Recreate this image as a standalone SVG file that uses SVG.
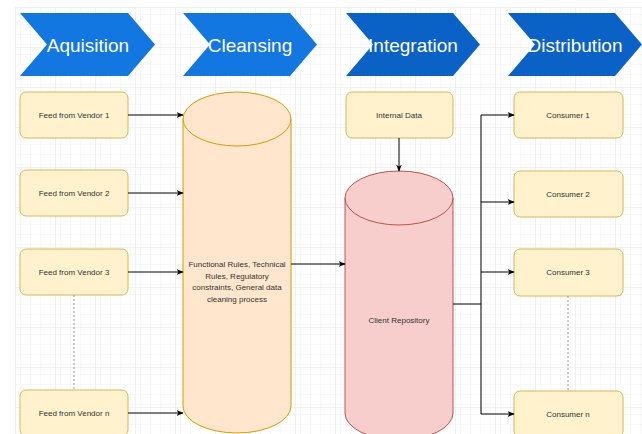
<svg xmlns="http://www.w3.org/2000/svg" width="642" height="434" viewBox="0 0 642 434">
<defs>
<pattern id="gMinor" width="10" height="10" patternUnits="userSpaceOnUse" x="15" y="7">
<path d="M10,0 L0,0 0,10" fill="none" stroke="#f1f1f1" stroke-width="1"/>
</pattern>
<pattern id="gMajor" width="40" height="40" patternUnits="userSpaceOnUse" x="15" y="7">
<rect width="40" height="40" fill="url(#gMinor)"/>
<path d="M40,0 L0,0 0,40" fill="none" stroke="#e4e4e4" stroke-width="1"/>
</pattern>
<marker id="arr" viewBox="0 0 10 10" refX="9" refY="5" markerWidth="7" markerHeight="7" orient="auto" markerUnits="userSpaceOnUse">
<path d="M0,1 L10,5 L0,9 L2.5,5 Z" fill="#000"/>
</marker>
</defs>
<style>
.chev1{fill:#1277e1;}
.chev2{fill:#0b62c6;}
.title{font-family:"Liberation Sans",Arial,sans-serif;font-size:19px;fill:#fff;text-anchor:middle;}
.box{fill:#fff2cc;stroke:#d6b656;stroke-width:1;}
.lbl{font-family:"Liberation Sans",Arial,sans-serif;font-size:8px;fill:#333;text-anchor:middle;}
.conn{fill:none;stroke:#000;stroke-width:1;}
.dot{fill:none;stroke:#999;stroke-width:1;stroke-dasharray:2,2;}
</style>
<rect width="642" height="434" fill="#fff"/>
<rect x="15" y="7" width="627" height="427" fill="url(#gMajor)"/>

<g id="stage-aquisition">
<polygon class="chev1" points="20,13 128,13 155,44.5 128,76 20,76 47,44.5"/>
<text class="title" x="88" y="52">Aquisition</text>
</g>
<g id="stage-cleansing">
<polygon class="chev1" points="183,13 290,13 317,44.5 290,76 183,76 210,44.5"/>
<text class="title" x="250" y="52">Cleansing</text>
</g>
<g id="stage-integration">
<polygon class="chev2" points="346,13 453,13 480,44.5 453,76 346,76 373,44.5"/>
<text class="title" x="413" y="52">Integration</text>
</g>
<g id="stage-distribution">
<polygon class="chev2" points="508,13 615,13 642,44.5 615,76 508,76 535,44.5"/>
<text class="title" x="575" y="52">Distribution</text>
</g>

<g id="vendor1">
<rect class="box" x="20" y="92" width="108" height="46" rx="6"/>
<text class="lbl" x="74" y="118">Feed from Vendor 1</text>
</g>
<g id="vendor2">
<rect class="box" x="20" y="170" width="108" height="46" rx="6"/>
<text class="lbl" x="74" y="196">Feed from Vendor 2</text>
</g>
<g id="vendor3">
<rect class="box" x="20" y="249" width="108" height="46" rx="6"/>
<text class="lbl" x="74" y="275">Feed from Vendor 3</text>
</g>
<g id="vendorn">
<rect class="box" x="20" y="390" width="108" height="46" rx="6"/>
<text class="lbl" x="74" y="416">Feed from Vendor n</text>
</g>

<g id="cleansing-store">
<path d="M183,119 A54,27 0 0,1 291,119 L291,406 A54,27 0 0,1 183,406 Z" fill="#ffe6cc" stroke="#d79b00" stroke-width="1"/>
<path d="M183,119 A54,27 0 0,0 291,119" fill="none" stroke="#d79b00" stroke-width="1"/>
<text class="lbl" x="237" y="267">Functional Rules, Technical</text>
<text class="lbl" x="237" y="278.5">Rules, Regulatory</text>
<text class="lbl" x="237" y="290">constraints, General data</text>
<text class="lbl" x="237" y="301.5">cleaning process</text>
</g>

<g id="internal-data">
<rect class="box" x="346" y="92" width="107" height="46" rx="6"/>
<text class="lbl" x="399" y="118">Internal Data</text>
</g>

<g id="client-repository">
<path d="M345,198 A54,27 0 0,1 453,198 L453,413 A54,27 0 0,1 345,413 Z" fill="#f8cecc" stroke="#b85450" stroke-width="1"/>
<path d="M345,198 A54,27 0 0,0 453,198" fill="none" stroke="#b85450" stroke-width="1"/>
<text class="lbl" x="399" y="323">Client Repository</text>
</g>

<g id="consumer1">
<rect class="box" x="514" y="92" width="109" height="46" rx="6"/>
<text class="lbl" x="568" y="118">Consumer 1</text>
</g>
<g id="consumer2">
<rect class="box" x="514" y="171" width="109" height="46" rx="6"/>
<text class="lbl" x="568" y="197">Consumer 2</text>
</g>
<g id="consumer3">
<rect class="box" x="514" y="249" width="109" height="47" rx="6"/>
<text class="lbl" x="568" y="275">Consumer 3</text>
</g>
<g id="consumern">
<rect class="box" x="514" y="391" width="109" height="46" rx="6"/>
<text class="lbl" x="568" y="417">Consumer n</text>
</g>

<g id="connectors">
<line class="conn" x1="128" y1="115" x2="183" y2="115" marker-end="url(#arr)"/>
<line class="conn" x1="128" y1="193" x2="183" y2="193" marker-end="url(#arr)"/>
<line class="conn" x1="128" y1="272" x2="183" y2="272" marker-end="url(#arr)"/>
<line class="conn" x1="128" y1="413" x2="183" y2="413" marker-end="url(#arr)"/>
<line class="conn" x1="291" y1="264" x2="345" y2="264" marker-end="url(#arr)"/>
<line class="conn" x1="399" y1="138" x2="399" y2="171" marker-end="url(#arr)"/>
<line class="conn" x1="453" y1="304" x2="481" y2="304"/>
<line class="conn" x1="481" y1="115" x2="481" y2="414"/>
<line class="conn" x1="481" y1="115" x2="514" y2="115" marker-end="url(#arr)"/>
<line class="conn" x1="481" y1="202" x2="514" y2="202" marker-end="url(#arr)"/>
<line class="conn" x1="481" y1="272" x2="514" y2="272" marker-end="url(#arr)"/>
<line class="conn" x1="481" y1="414" x2="514" y2="414" marker-end="url(#arr)"/>
<line class="dot" x1="74" y1="295" x2="74" y2="390"/>
<line class="dot" x1="568" y1="296" x2="568" y2="391"/>
</g>
</svg>
